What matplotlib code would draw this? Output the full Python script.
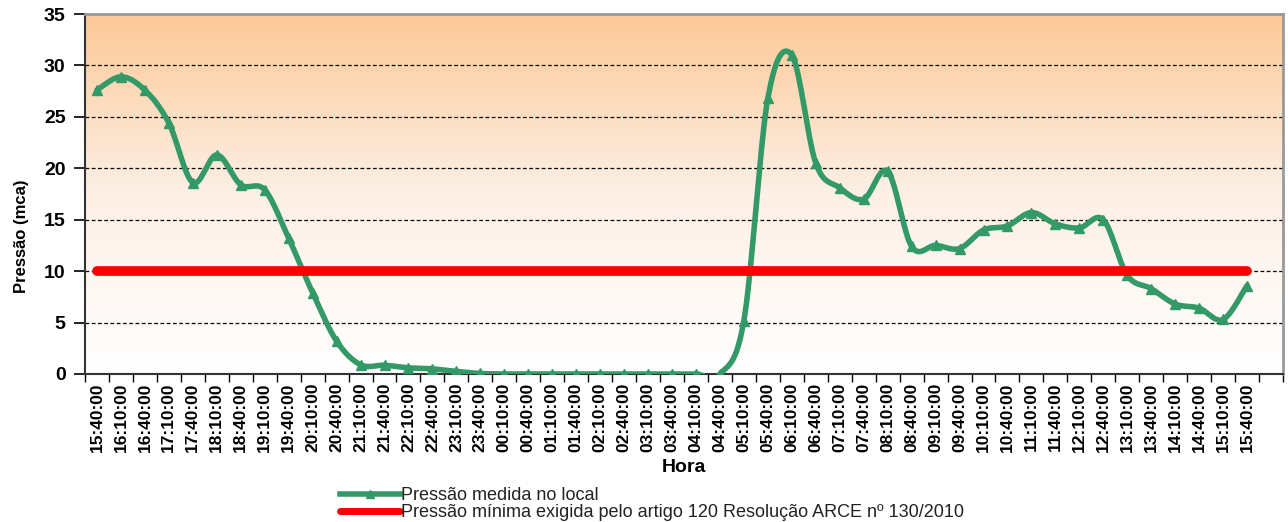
import numpy as np
import matplotlib
matplotlib.use("Agg")
import matplotlib.pyplot as plt
from matplotlib.colors import LinearSegmentedColormap
from matplotlib.lines import Line2D

plt.rcParams['font.family'] = ['Liberation Sans', 'DejaVu Sans']

# Data
horas = ['15:40:00', '16:10:00', '16:40:00', '17:10:00', '17:40:00', '18:10:00',
         '18:40:00', '19:10:00', '19:40:00', '20:10:00', '20:40:00', '21:10:00',
         '21:40:00', '22:10:00', '22:40:00', '23:10:00', '23:40:00', '00:10:00',
         '00:40:00', '01:10:00', '01:40:00', '02:10:00', '02:40:00', '03:10:00',
         '03:40:00', '04:10:00', '04:40:00', '05:10:00', '05:40:00', '06:10:00',
         '06:40:00', '07:10:00', '07:40:00', '08:10:00', '08:40:00', '09:10:00',
         '09:40:00', '10:10:00', '10:40:00', '11:10:00', '11:40:00', '12:10:00',
         '12:40:00', '13:10:00', '13:40:00', '14:10:00', '14:40:00', '15:10:00',
         '15:40:00']
pressao = [27.6, 28.9, 27.6, 24.4, 18.6, 21.3, 18.4, 17.9, 13.2, 7.9,
           3.2, 0.9, 0.85, 0.6, 0.5, 0.25, 0.05, 0.0, 0.0, 0.0,
           0.0, 0.0, 0.0, 0.0, 0.0, 0.0, 0.0, 5.2, 26.8, 31.0,
           20.5, 18.1, 17.0, 19.7, 12.4, 12.5, 12.2, 14.0, 14.4, 15.7,
           14.6, 14.2, 15.0, 9.6, 8.3, 6.8, 6.4, 5.3, 8.6]
minimo = [10.0] * len(horas)

x = np.arange(len(horas))


def smooth(xs, ys, n=20):
    # Excel-like smoothed line (Catmull-Rom bezier between the points)
    xs = np.asarray(xs, float)
    ys = np.asarray(ys, float)
    px = np.concatenate([[xs[0]], xs, [xs[-1]]])
    py = np.concatenate([[ys[0]], ys, [ys[-1]]])
    out_x, out_y = [], []
    t = np.linspace(0, 1, n)
    for i in range(1, len(px) - 2):
        p0 = np.array([px[i], py[i]])
        p3 = np.array([px[i + 1], py[i + 1]])
        c1 = p0 + (p3 - np.array([px[i - 1], py[i - 1]])) / 6
        c2 = p3 - (np.array([px[i + 2], py[i + 2]]) - p0) / 6
        b = ((1 - t) ** 3)[:, None] * p0 + (3 * (1 - t) ** 2 * t)[:, None] * c1 \
            + (3 * (1 - t) * t ** 2)[:, None] * c2 + (t ** 3)[:, None] * p3
        out_x.extend(b[:, 0])
        out_y.extend(b[:, 1])
    return np.array(out_x), np.array(out_y)


fig = plt.figure(figsize=(12.88, 5.22), dpi=100)
ax = fig.add_axes([85 / 1288, (522 - 374) / 522, (1283 - 85) / 1288, 360 / 522])

# gradient background
cmap = LinearSegmentedColormap.from_list('bg', ['#FFFFFF', '#FDF0E6', '#FCC997'])
grad = np.linspace(0, 1, 256).reshape(-1, 1)
ax.imshow(grad, cmap=cmap, origin='lower', aspect='auto',
          extent=[-0.5, 49.5, 0, 35], zorder=0)

for v in range(5, 35, 5):
    ax.axhline(v, color='black', lw=0.9, ls=(0, (3, 2)), zorder=1)

sx, sy = smooth(x, pressao)
ax.plot(sx, sy, color='#339966', lw=4, solid_capstyle='round', zorder=3)
ax.plot(x, pressao, ls='none', marker='^', ms=7, color='#339966', zorder=3)
ax.plot(x, minimo, color='#FF0000', lw=7, solid_capstyle='round', zorder=4)

ax.set_xlim(-0.5, 49.5)
ax.set_ylim(0, 35)
ax.set_yticks(range(0, 36, 5))
ax.tick_params(axis='y', direction='out', length=8, width=1.2, labelsize=14, pad=6)
for lab in ax.get_yticklabels():
    lab.set_fontweight('bold')

ax.set_xticks(x)
ax.set_xticklabels(horas, rotation=90, fontsize=12.5, fontweight='bold')
ax.set_xticks(np.arange(-0.5, 50, 1), minor=True)
ax.tick_params(axis='x', which='major', length=0, pad=6)
ax.tick_params(axis='x', which='minor', direction='out', length=6, width=1)

ax.spines['left'].set_color('#333333')
ax.spines['bottom'].set_color('#333333')
ax.spines['left'].set_linewidth(1.5)
ax.spines['bottom'].set_linewidth(1.5)
ax.spines['top'].set_color('#999999')
ax.spines['right'].set_color('#999999')
ax.spines['top'].set_linewidth(2)
ax.spines['right'].set_linewidth(2)

ax.set_ylabel('Pressão (mca)', fontsize=12, fontweight='bold')
ax.yaxis.set_label_coords(-0.047, 0.383)
ax.set_xlabel('Hora', fontsize=14, fontweight='bold')
ax.xaxis.set_label_coords(0.5, -0.235)

handles = [Line2D([], [], color='#339966', lw=4, marker='^', ms=6),
           Line2D([], [], color='#FF0000', lw=5, solid_capstyle='round')]
fig.legend(handles, ['Pressão medida no local',
                     'Pressão mínima exigida pelo artigo 120 Resolução ARCE nº 130/2010'],
           loc='upper left', bbox_to_anchor=(331 / 1288, 1 - 478 / 522),
           frameon=False, fontsize=13, handlelength=3.3, handletextpad=0.1,
           labelspacing=0.0, borderpad=0, labelcolor='#222222')

fig.savefig('out.png', dpi=100)
